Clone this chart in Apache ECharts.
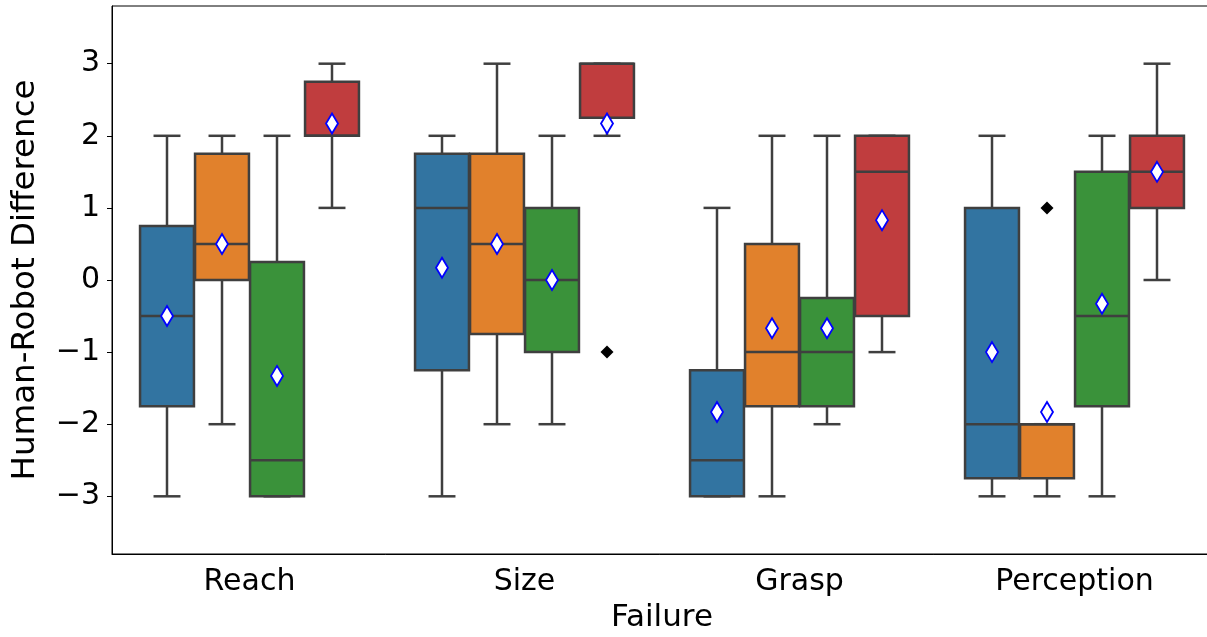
<!DOCTYPE html>
<html>
<head>
<meta charset="utf-8">
<script src="https://cdn.jsdelivr.net/npm/echarts@6/dist/echarts.min.js"></script>
<style>
  html, body { margin: 0; padding: 0; background: #fff; overflow: hidden; }
  #chart { width: 1207px; height: 637px; }
</style>
</head>
<body>
<div id="chart"></div>
<script>
var categories = ['Reach', 'Size', 'Grasp', 'Perception'];
var yTicks = [-3, -2, -1, 0, 1, 2, 3];

// each entry: [low whisker, Q1, median, Q3, high whisker], one per category
var blueBoxes = [[-3, -1.75, -0.5, 0.75, 2], [-3, -1.25, 1, 1.75, 2], [-3, -3, -2.5, -1.25, 1], [-3, -2.75, -2, 1, 2]];
var orangeBoxes = [[-2, 0, 0.5, 1.75, 2], [-2, -0.75, 0.5, 1.75, 3], [-3, -1.75, -1, 0.5, 2], [-3, -2.75, -2, -2, -2]];
var greenBoxes = [[-3, -3, -2.5, 0.25, 2], [-2, -1, 0, 1, 2], [-2, -1.75, -1, -0.25, 2], [-3, -1.75, -0.5, 1.5, 2]];
var redBoxes = [[1, 2, 2, 2.75, 3], [2, 2.25, 3, 3, 3], [-1, -0.5, 1.5, 2, 2], [0, 1, 1.5, 2, 3]];

var blueMeans = [-0.5, 0.17, -1.83, -1];
var orangeMeans = [0.5, 0.5, -0.67, -1.83];
var greenMeans = [-1.33, 0, -0.67, -0.33];
var redMeans = [2.17, 2.17, 0.83, 1.5];

// outliers: [category index, value]
var blueOutliers = [];
var orangeOutliers = [[3, 1]];
var greenOutliers = [];
var redOutliers = [[1, -1]];

var colors = ['#3274a1', '#e1812c', '#3a923a', '#c03d3e'];
var lineColor = '#3f3f3f';
var hues = [
  { boxes: blueBoxes, means: blueMeans, outliers: blueOutliers },
  { boxes: orangeBoxes, means: orangeMeans, outliers: orangeOutliers },
  { boxes: greenBoxes, means: greenMeans, outliers: greenOutliers },
  { boxes: redBoxes, means: redMeans, outliers: redOutliers }
];

function slot(api, cat, hue) {
  var band = api.size([1, 0])[0];
  var w = band * 0.8 / 4;
  var cx = api.coord([cat, 0])[0] + (hue - 1.5) * w;
  return { cx: cx, w: w };
}

function boxRenderer(hue) {
  return function (params, api) {
    var cat = api.value(0);
    var s = slot(api, cat, hue);
    var y = function (v) { return api.coord([cat, v])[1]; };
    var low = y(api.value(1)), q1 = y(api.value(2)), med = y(api.value(3));
    var q3 = y(api.value(4)), high = y(api.value(5)), mean = y(api.value(6));
    var bw = s.w * 0.98, half = bw / 2, cap = bw / 4;
    var ls = { stroke: lineColor, lineWidth: 2.5 };
    return {
      type: 'group',
      children: [
        { type: 'line', shape: { x1: s.cx, y1: q1, x2: s.cx, y2: low }, style: ls },
        { type: 'line', shape: { x1: s.cx, y1: q3, x2: s.cx, y2: high }, style: ls },
        { type: 'line', shape: { x1: s.cx - cap, y1: low, x2: s.cx + cap, y2: low }, style: ls },
        { type: 'line', shape: { x1: s.cx - cap, y1: high, x2: s.cx + cap, y2: high }, style: ls },
        { type: 'rect', shape: { x: s.cx - half, y: q3, width: bw, height: q1 - q3 },
          style: { fill: colors[hue], stroke: lineColor, lineWidth: 2.5 } },
        { type: 'line', shape: { x1: s.cx - half, y1: med, x2: s.cx + half, y2: med }, style: ls },
        { type: 'polygon', shape: { points: [[s.cx, mean - 10], [s.cx + 6, mean], [s.cx, mean + 10], [s.cx - 6, mean]] },
          style: { fill: '#fff', stroke: '#0000ff', lineWidth: 1.8 } }
      ]
    };
  };
}

function outlierRenderer(hue) {
  return function (params, api) {
    var cat = api.value(0);
    var s = slot(api, cat, hue);
    var p = api.coord([cat, api.value(1)]);
    var cx = s.cx, cy = p[1];
    return {
      type: 'polygon',
      shape: { points: [[cx, cy - 6.5], [cx + 6.5, cy], [cx, cy + 6.5], [cx - 6.5, cy]] },
      style: { fill: '#000' }
    };
  };
}

var series = [];
hues.forEach(function (h, i) {
  series.push({
    type: 'custom',
    renderItem: boxRenderer(i),
    encode: { x: 0, y: [1, 2, 3, 4, 5, 6] },
    data: h.boxes.map(function (b, c) { return [c].concat(b, [h.means[c]]); }),
    z: 2
  });
  if (h.outliers.length) {
    series.push({
      type: 'custom',
      renderItem: outlierRenderer(i),
      encode: { x: 0, y: 1 },
      data: h.outliers,
      z: 3
    });
  }
});

var font = 'DejaVu Sans';
var chart = echarts.init(document.getElementById('chart'), null, { renderer: 'canvas' });
chart.setOption({
  backgroundColor: '#fff',
  animation: false,
  grid: {
    left: 112, top: 6, width: 1100, height: 548,
    outerBoundsMode: 'none',
    show: true, borderColor: '#000', borderWidth: 1, backgroundColor: 'transparent'
  },
  xAxis: {
    type: 'category',
    data: categories,
    name: 'Failure',
    nameLocation: 'middle',
    nameGap: 48,
    nameTextStyle: { fontFamily: font, fontSize: 31, color: '#000' },
    axisLine: { onZero: false, lineStyle: { color: '#000', width: 1 } },
    axisTick: { alignWithLabel: true, length: 5, lineStyle: { color: '#000' } },
    axisLabel: { fontFamily: font, fontSize: 30, color: '#000', margin: 13 },
    splitLine: { show: false }
  },
  yAxis: {
    type: 'value',
    min: -3.8,
    max: 3.8,
    name: 'Human-Robot Difference',
    nameLocation: 'middle',
    nameGap: 70,
    nameTextStyle: { fontFamily: font, fontSize: 32.5, color: '#000' },
    axisLine: { show: true, onZero: false, lineStyle: { color: '#000', width: 1 } },
    axisTick: { show: true, length: 5, customValues: yTicks, lineStyle: { color: '#000' } },
    axisLabel: {
      fontFamily: font, fontSize: 30, color: '#000', margin: 12,
      customValues: yTicks,
      formatter: function (v) { return v < 0 ? '\u2212' + Math.abs(v) : String(v); }
    },
    splitLine: { show: false }
  },
  series: series
});
</script>
</body>
</html>
